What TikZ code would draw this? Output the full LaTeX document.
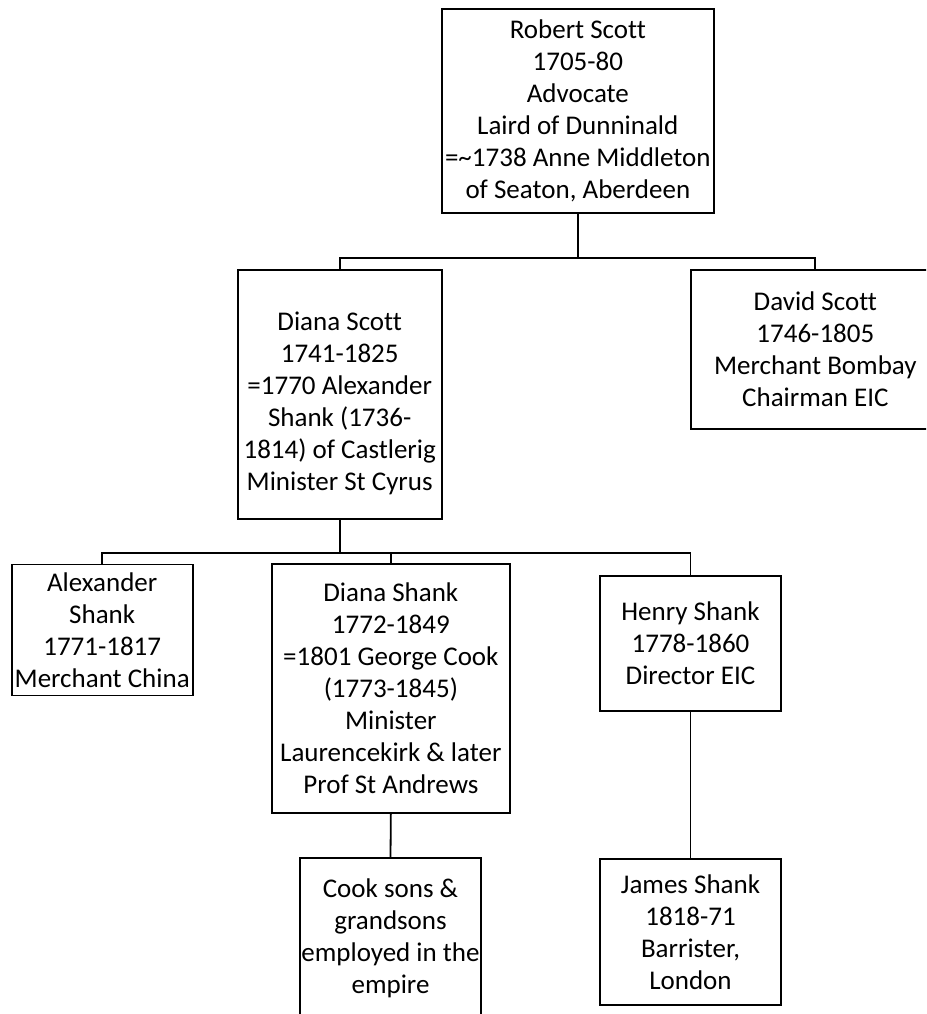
\documentclass[tikz,border=0pt]{standalone}
\usepackage{fontspec}
\setmainfont[Ligatures=NoCommon]{Carlito}
\begin{document}
\begin{tikzpicture}[x=1pt,y=-1pt,
  person/.style={draw, line width=1.8pt, rectangle, inner sep=0pt, align=center,
    font=\fontsize{27}{32}\selectfont},
  link/.style={line width=1.8pt}]
\useasboundingbox (0,0) rectangle (926,1014);
\clip (0,0) rectangle (926,1014);
\fill[white] (0,0) rectangle (926,1014);

% first generation
\node[person, minimum width=272.3pt, minimum height=203.4pt] (robert) at (577.85,111)
  {Robert Scott\\1705-80\\Advocate\\Laird of Dunninald\\=\textasciitilde1738 Anne Middleton\\of Seaton, Aberdeen};

% second generation (first line strut lowers the text block a little)
\node[person, minimum width=204pt, minimum height=249pt] (diana) at (339.7,394.5)
  {\rule{0pt}{36pt}Diana Scott\\1741-1825\\=1770 Alexander\\Shank (1736-\\1814) of Castlerig\\Minister St Cyrus};
\node[person, minimum width=249.3pt, minimum height=159.3pt] (david) at (815.35,349.65)
  {David Scott\\1746-1805\\Merchant Bombay\\Chairman EIC};

% third generation
\node[person, minimum width=181pt, minimum height=131pt] (alex) at (102.2,630)
  {Alexander\\Shank\\1771-1817\\Merchant China};
\node[person, minimum width=237.7pt, minimum height=248.4pt] (dshank) at (390.85,688.5)
  {Diana Shank\\1772-1849\\=1801 George Cook\\(1773-1845)\\Minister\\Laurencekirk \& later\\Prof St Andrews};
\node[person, minimum width=181pt, minimum height=135.3pt] (henry) at (690.5,643.35)
  {Henry Shank\\1778-1860\\Director EIC};

% fourth generation
\node[person, minimum width=181pt, minimum height=159.7pt] (cook) at (390.5,938.2)
  {Cook sons \&\\grandsons\\employed in the\\empire};
\node[person, minimum width=181pt, minimum height=146pt] (james) at (690.5,932)
  {James Shank\\1818-71\\Barrister,\\London};

% family lines
\coordinate (bus1) at (0,258.3);
\coordinate (bus2) at (0,552.7);
\draw[link] (robert.south) -- (robert.south |- bus1);
\draw[link] (diana.north) -- (diana.north |- bus1) -| (david.north);
\draw[link] (diana.south) -- (diana.south |- bus2);
\draw[link] (alex.north) -- (alex.north |- bus2) -| (henry.north);
\draw[link] (dshank.north) -- (dshank.north |- bus2);
\draw[link] (dshank.south) -- (cook.north);
\draw[link] (henry.south) -- (james.north);
\end{tikzpicture}
\end{document}
